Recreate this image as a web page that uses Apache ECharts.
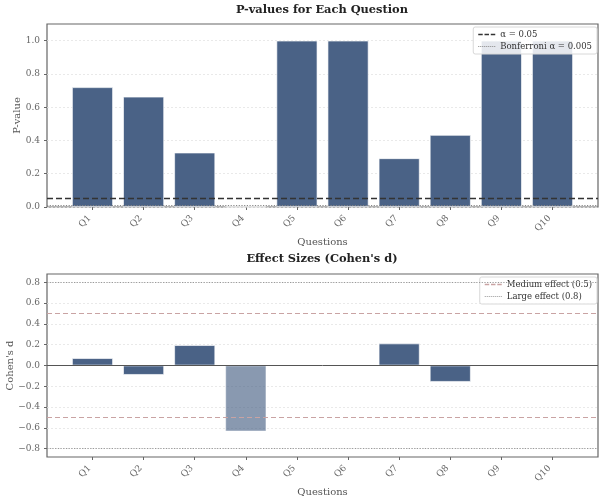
<!DOCTYPE html>
<html><head><meta charset="utf-8">
<script src="https://cdn.jsdelivr.net/npm/echarts@6/dist/echarts.min.js"></script>
<style>html,body{margin:0;padding:0;background:#fff}#c{width:604px;height:502px}</style>
</head><body><div id="c"></div>
<script>
const questions = ['Q1','Q2','Q3','Q4','Q5','Q6','Q7','Q8','Q9','Q10'];
const pValues = [0.72, 0.663, 0.327, 0.0008, 1.0, 1.0, 0.293, 0.433, 1.0, 1.0];
const cohensD = [0.071, -0.09, 0.196, -0.633, 0, 0, 0.212, -0.157, 0, 0];
const pTicks = [0, 0.2, 0.4, 0.6, 0.8, 1.0];
const dTicks = [-0.8, -0.6, -0.4, -0.2, 0, 0.2, 0.4, 0.6, 0.8];
const alphaLevel = 0.05;
const bonferroniLevel = 0.005;
const mediumEffect = 0.5;
const largeEffect = 0.8;
const legendTop = ['α = 0.05', 'Bonferroni α = 0.005'];
const legendBottom = ['Medium effect (0.5)', 'Large effect (0.8)'];

const FONT = 'DejaVu Serif';
const BAR = '#4a6286';
const idx = questions.map((q, i) => i);
const fmt = v => (v < 0 ? '\u2212' : '') + Math.abs(v).toFixed(1);
const dashIcon = 'path://M0,0h5v1.5h-5zM7,0h5v1.5h-5zM14,0h5v1.5h-5z';
let dots = ''; for (let k = 0; k < 9; k++) dots += 'M' + (k * 2) + ',0h1v1h-1z';
const dotIcon = 'path://' + dots;

function xAxis(g) {
  return {
    gridIndex: g, type: 'value', min: -0.89, max: 9.89, position: 'bottom',
    axisLine: {show: false, onZero: false}, splitLine: {show: false},
    axisTick: {show: true, customValues: idx, length: 3, lineStyle: {color: '#666'}},
    axisLabel: {customValues: idx, rotate: 45, margin: 7, padding: [0, 4, 0, 0],
      formatter: v => questions[Math.round(v)],
      fontFamily: FONT, fontSize: 9, color: '#666'},
    name: 'Questions', nameLocation: 'middle', nameGap: 30,
    nameTextStyle: {fontFamily: FONT, fontSize: 10, color: '#555'}
  };
}
function yAxis(g, min, max, ticks, name, gap) {
  return {
    gridIndex: g, type: 'value', min: min, max: max, position: 'left',
    axisLine: {show: false, onZero: false},
    axisTick: {show: true, customValues: ticks, length: 3, lineStyle: {color: '#666'}},
    axisLabel: {customValues: ticks, formatter: fmt, margin: 7, fontFamily: FONT, fontSize: 9, color: '#666'},
    splitLine: {show: true, lineStyle: {color: '#e4e4e4', type: [2, 2], width: 0.8}},
    name: name, nameLocation: 'middle', nameGap: gap, nameMoveOverlap: false,
    nameTextStyle: {fontFamily: FONT, fontSize: 10, color: '#555'}
  };
}
function refLine(name, g, values, color, type, width) {
  return {
    name: name, type: 'line', xAxisIndex: g, yAxisIndex: g, data: [], color: color,
    markLine: {symbol: 'none', silent: true, label: {show: false}, animation: false,
      lineStyle: {color: color, type: type, width: width},
      data: values.map(v => ({yAxis: v}))}
  };
}
const legendStyle = {
  orient: 'vertical', right: 7, padding: [3, 5], itemGap: 3, itemWidth: 17, itemHeight: 2,
  backgroundColor: 'rgba(255,255,255,0.85)', borderColor: '#d8d8d8', borderWidth: 1, borderRadius: 2,
  textStyle: {fontFamily: FONT, fontSize: 8.5, color: '#333'}, selectedMode: false
};
const gridStyle = {left: 47, right: 6, height: 183, show: true, borderColor: '#666', borderWidth: 1.2,
  backgroundColor: '#fff', containLabel: false, outerBoundsMode: 'none'};

const chart = echarts.init(document.getElementById('c'), null, {renderer: 'canvas'});
chart.setOption({
  animation: false,
  backgroundColor: '#fff',
  title: [
    {text: 'P-values for Each Question', left: 322, top: 5, padding: 0, textAlign: 'center',
      textStyle: {fontFamily: FONT, fontWeight: 'bold', fontSize: 11.4, color: '#222'}},
    {text: "Effect Sizes (Cohen's d)", left: 322, top: 254, padding: 0, textAlign: 'center',
      textStyle: {fontFamily: FONT, fontWeight: 'bold', fontSize: 11.4, color: '#222'}}
  ],
  grid: [
    Object.assign({top: 24}, gridStyle),
    Object.assign({top: 274}, gridStyle)
  ],
  xAxis: [xAxis(0), xAxis(1)],
  yAxis: [yAxis(0, 0, 1.1, pTicks, 'P-value', 25), yAxis(1, -0.88, 0.88, dTicks, "Cohen's d", 32)],
  legend: [
    Object.assign({top: 27, data: [{name: legendTop[0], icon: dashIcon}, {name: legendTop[1], icon: dotIcon}]}, legendStyle),
    Object.assign({top: 277, data: [{name: legendBottom[0], icon: dashIcon}, {name: legendBottom[1], icon: dotIcon}]}, legendStyle)
  ],
  series: [
    {type: 'bar', xAxisIndex: 0, yAxisIndex: 0, barWidth: 41, z: 3,
      itemStyle: {borderColor: 'rgba(255,255,255,0.8)', borderWidth: 0.8},
      data: pValues.map((p, i) => ({value: [i, p], itemStyle: {color: p < bonferroniLevel ? '#c0504d' : BAR}}))},
    {type: 'bar', xAxisIndex: 1, yAxisIndex: 1, barWidth: 41, z: 3,
      itemStyle: {borderColor: 'rgba(255,255,255,0.8)', borderWidth: 0.8},
      data: cohensD.map((d, i) => ({value: [i, d], itemStyle: {color: BAR, opacity: pValues[i] < bonferroniLevel ? 0.65 : 1}}))},
    refLine(legendTop[0], 0, [alphaLevel], '#333', [6, 3], 1.4),
    refLine(legendTop[1], 0, [bonferroniLevel], '#888', [1.2, 1.5], 1),
    refLine(legendBottom[0], 1, [mediumEffect, -mediumEffect], '#c9a3a3', [5, 3], 1),
    refLine(legendBottom[1], 1, [largeEffect, -largeEffect], '#999', [1.2, 1.5], 1),
    {type: 'line', xAxisIndex: 1, yAxisIndex: 1, data: [], silent: true,
      markLine: {symbol: 'none', silent: true, label: {show: false}, animation: false,
        lineStyle: {color: '#555', type: 'solid', width: 1}, data: [{yAxis: 0}]}}
  ]
});
</script></body></html>
